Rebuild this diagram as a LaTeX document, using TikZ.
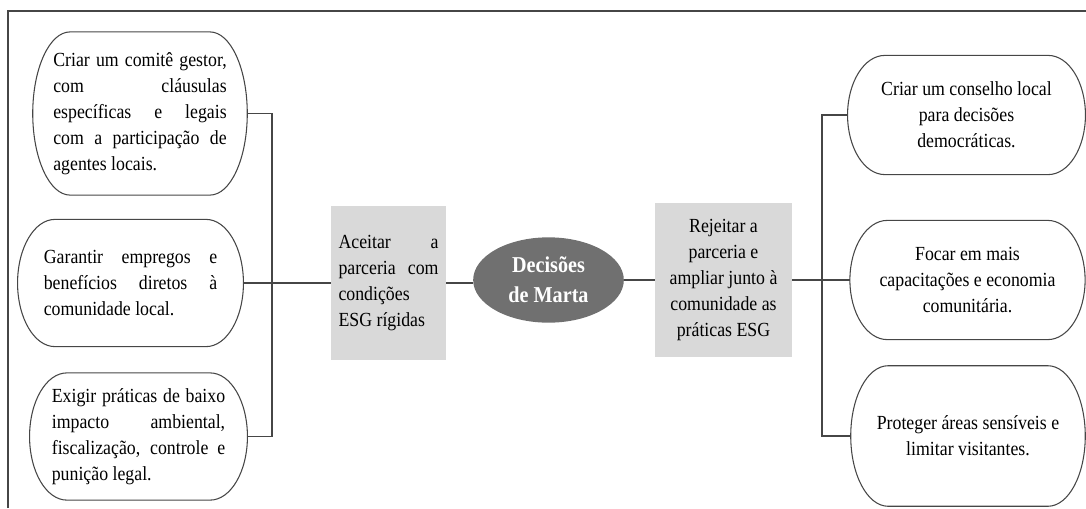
\documentclass[tikz,border=0pt]{standalone}
\usepackage{fontspec}
\setmainfont{Liberation Serif}[FakeStretch=0.89]
\usetikzlibrary{shapes.geometric,calc}
\definecolor{boxgray}{RGB}{217,217,217}
\definecolor{decgray}{RGB}{112,112,112}
\definecolor{edgegray}{RGB}{70,70,70}
\hyphenpenalty=10000
\exhyphenpenalty=10000
\newcommand\termrx{28pt}
% outline of a terminator box round a named node
\newcommand\drawterm[1]{%
\draw[termline] let \p1=(#1.north west), \p2=(#1.south east), \n1={(\y1-\y2)/2} in
 ({\x1+\termrx},\y1) -- ({\x2-\termrx},\y1)
 arc[start angle=90, end angle=-90, x radius=\termrx, y radius={\n1*1pt}]
 -- ({\x1+\termrx},\y2)
 arc[start angle=270, end angle=90, x radius=\termrx, y radius={\n1*1pt}] -- cycle;}

\begin{document}
\begin{tikzpicture}[x=0.75pt,y=-0.75pt,
 option/.style ={inner sep=0pt, font=\fontsize{15}{19.5}\selectfont},
 leftoption/.style ={option, text width=130pt, align=justify},
 rightoption/.style ={option, align=center},
 choice/.style ={option, fill=boxgray},
 decision/.style ={ellipse, fill=decgray, text=white, inner sep=0pt, align=center,
   font=\bfseries\fontsize{17}{22.5}\selectfont},
 link/.style ={-,draw=edgegray, line width=0.8pt},
 termline/.style ={draw=edgegray, line width=0.8pt}
 ]
\useasboundingbox (0,0) rectangle (1086,508);
%draw outer frame
\draw[termline] (8,508) -- (8,11) -- (1086,11);
%draw centre
\node[decision, minimum width=113pt, minimum height=64pt] (marta) at (548.5,280) {Decisões\\de Marta};
%draw the two choices
\node[choice, text width=75pt, align=justify, minimum width=86pt, minimum height=115.5pt] (aceitar) at (388.5,283)
 {Aceitar a\linebreak parceria com\linebreak condições\linebreak ESG rígidas};
\node[choice, align=center, minimum width=103pt, minimum height=115.5pt] (rejeitar) at (723.5,280)
 {Rejeitar a\\parceria e\\ampliar junto à\\comunidade as\\práticas ESG};
%draw left options
\node[leftoption, minimum width=160.5pt, minimum height=122pt] (comite) at (140,113.5)
 {Criar um comitê gestor,\linebreak com cláusulas\linebreak específicas e legais\linebreak com a participação de\linebreak agentes locais.};
\node[leftoption, minimum width=169pt, minimum height=95pt] (empregos) at (130.5,283)
 {Garantir empregos e\linebreak benefícios diretos à\linebreak comunidade local.};
\node[leftoption, minimum width=163pt, minimum height=95pt] (impacto) at (138.5,436.5)
 {Exigir práticas de baixo\linebreak impacto ambiental,\linebreak fiscalização, controle e\linebreak punição legal.};
%draw right options
\node[rightoption, minimum width=178pt, minimum height=89pt] (conselho) at (966.5,115)
 {Criar um conselho local\\para decisões\\democráticas.};
\node[rightoption, minimum width=176pt, minimum height=89pt] (capacita) at (967.5,280)
 {Focar em mais\\capacitações e economia\\comunitária.};
\node[rightoption, minimum width=175.5pt, minimum height=105pt] (protege) at (968,436)
 {Proteger áreas sensíveis e\\limitar visitantes.};
\drawterm{comite}
\drawterm{empregos}
\drawterm{impacto}
\drawterm{conselho}
\drawterm{capacita}
\drawterm{protege}
%draw links
\coordinate (lbar) at (272,283);
\coordinate (rbar) at (822,280);
\draw[link] (comite.east) -| (lbar |- impacto.east) -- (impacto.east);
\draw[link] (empregos.east) -- (aceitar.west);
\draw[link] (aceitar.east) -- (aceitar.east -| marta.west);
\draw[link] (marta.east) -- (marta.east -| rejeitar.west);
\draw[link] (rejeitar.east) -- (capacita.west);
\draw[link] (conselho.west) -| (rbar |- protege.west) -- (protege.west);
\end{tikzpicture}
\end{document}
